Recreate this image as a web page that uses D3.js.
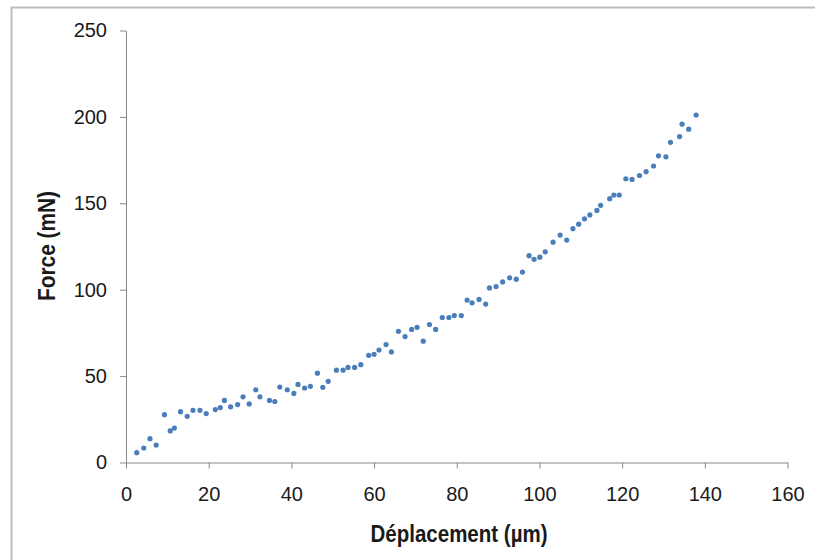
<!DOCTYPE html>
<html>
<head>
<meta charset="utf-8">
<script src="https://cdn.jsdelivr.net/npm/d3@7/dist/d3.min.js"></script>
<style>
  body { margin: 0; background: #fff; }
  svg { display: block; font-family: "Liberation Sans", Arial, sans-serif; }
</style>
</head>
<body>
<svg id="chart" width="815" height="560"></svg>
<script>
const W = 815, H = 560;

// displacement (µm)
const displacement = [2.6, 4.3, 5.8, 7.3, 9.3, 10.7, 11.7, 13.2, 14.8, 16.2,
  17.9, 19.4, 21.6, 22.8, 23.8, 25.3, 27.0, 28.3, 29.8, 31.4,
  32.4, 34.7, 36.0, 37.2, 39.0, 40.6, 41.6, 43.2, 44.6, 46.3,
  47.6, 48.9, 50.9, 52.5, 53.7, 55.3, 56.8, 58.7, 60.0, 61.2,
  62.9, 64.2, 65.9, 67.5, 69.1, 70.4, 71.9, 73.4, 74.9, 76.5,
  78.1, 79.4, 81.1, 82.5, 83.7, 85.4, 87.0, 87.9, 89.5, 91.1,
  92.8, 94.4, 95.9, 97.5, 98.7, 100.1, 101.4, 103.3, 105.0, 106.6,
  108.1, 109.5, 110.9, 112.2, 113.9, 114.8, 117.0, 118.0, 119.3, 120.9,
  122.4, 124.2, 125.8, 127.6, 128.8, 130.6, 131.7, 133.9, 134.5, 136.1,
  137.9];

// force (mN)
const force = [5.7, 8.4, 13.8, 10.1, 27.7, 18.3, 19.9, 29.4, 26.7, 30.2,
  30.2, 28.3, 30.6, 31.8, 35.9, 32.2, 33.5, 38.0, 33.9, 42.1,
  38.0, 35.9, 35.3, 43.7, 42.1, 40.0, 45.2, 43.1, 44.1, 51.7,
  43.5, 47.0, 53.4, 53.4, 55.0, 55.0, 56.6, 62.0, 62.6, 65.1,
  68.3, 64.0, 75.9, 72.9, 77.0, 78.2, 70.2, 79.8, 77.0, 83.9,
  83.9, 85.0, 85.0, 94.0, 92.4, 94.4, 91.7, 101.0, 101.8, 104.5,
  106.9, 106.1, 110.2, 119.7, 117.6, 118.8, 121.9, 127.5, 131.6, 128.7,
  135.3, 137.9, 141.0, 143.3, 145.9, 148.8, 152.7, 154.8, 154.8, 164.2,
  163.8, 166.1, 168.3, 171.6, 177.5, 176.9, 185.3, 188.6, 195.8, 192.9,
  201.1];

const xTicks = [0, 20, 40, 60, 80, 100, 120, 140, 160];
const yTicks = [0, 50, 100, 150, 200, 250];

const points = displacement.map((d, i) => ({ x: d, y: force[i] }));

const svg = d3.select("#chart");

// outer frame
svg.append("rect")
  .attr("x", 11.5).attr("y", 7.5)
  .attr("width", 900).attr("height", 700)
  .attr("fill", "none")
  .attr("stroke", "#bdbdbd")
  .attr("stroke-width", 2);

const x = d3.scaleLinear().domain([0, 160]).range([126, 787.5]);
const y = d3.scaleLinear().domain([0, 250]).range([462.5, 30.5]);

const axisColor = "#888";

const gx = svg.append("g")
  .attr("transform", `translate(0,${y(0)})`)
  .call(d3.axisBottom(x).tickValues(xTicks).tickSize(6).tickPadding(18).tickSizeOuter(0));

const gy = svg.append("g")
  .attr("transform", `translate(${x(0)},0)`)
  .call(d3.axisLeft(y).tickValues(yTicks).tickSize(6).tickPadding(13).tickSizeOuter(0));

[gx, gy].forEach(g => {
  g.select(".domain").attr("stroke", axisColor);
  g.selectAll(".tick line").attr("stroke", axisColor);
  g.selectAll(".tick text")
    .attr("fill", "#1a1a1a")
    .style("font-size", "20px")
    .style("font-family", "'Liberation Sans', Arial, sans-serif");
});

// points
svg.append("g")
  .selectAll("circle")
  .data(points)
  .enter()
  .append("circle")
  .attr("cx", d => x(d.x))
  .attr("cy", d => y(d.y))
  .attr("r", 2.6)
  .attr("fill", "#4a7ebb");

// axis titles
svg.append("text")
  .attr("x", 459).attr("y", 542)
  .attr("text-anchor", "middle")
  .attr("textLength", 177)
  .attr("lengthAdjust", "spacingAndGlyphs")
  .style("font-size", "24px")
  .style("font-weight", "bold")
  .attr("fill", "#1a1a1a")
  .text("Déplacement (µm)");

svg.append("text")
  .attr("transform", "translate(55,246) rotate(-90)")
  .attr("text-anchor", "middle")
  .attr("textLength", 110)
  .attr("lengthAdjust", "spacingAndGlyphs")
  .style("font-size", "24px")
  .style("font-weight", "bold")
  .attr("fill", "#1a1a1a")
  .text("Force (mN)");
</script>
</body>
</html>
